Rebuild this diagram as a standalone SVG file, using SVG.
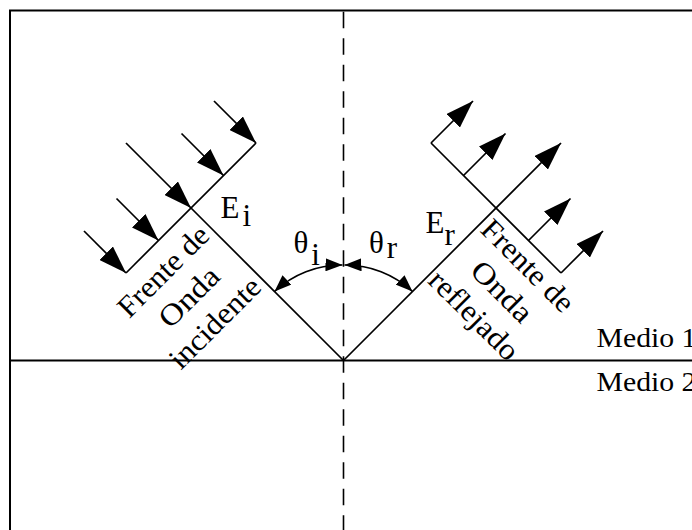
<svg xmlns="http://www.w3.org/2000/svg" width="692" height="530" viewBox="0 0 692 530">
<style>
.ln{stroke:#000;stroke-width:1.7;fill:none}
.arr{stroke:#000;stroke-width:1.7;fill:none;marker-end:url(#ah)}
.ang{stroke:#000;stroke-width:1.7;fill:none;marker-start:url(#sh);marker-end:url(#sh)}
.dash{stroke:#000;stroke-width:1.6;fill:none;stroke-dasharray:16.5 10}
text{font-family:"Liberation Serif","Times New Roman",serif;fill:#000}
.lbl{font-size:31px}
.rot{font-size:30px;text-anchor:middle}
.medio{font-size:27.5px}
</style>
<defs>
<marker id="ah" viewBox="0 0 28 19" refX="28" refY="9.5" markerWidth="28" markerHeight="19" markerUnits="userSpaceOnUse" orient="auto"><path d="M0,0 L28,9.5 L0,19 z" fill="#000"/></marker>
<marker id="sh" viewBox="0 0 17 13" refX="17" refY="6.5" markerWidth="17" markerHeight="13" markerUnits="userSpaceOnUse" orient="auto-start-reverse"><path d="M0,0 L17,6.5 L0,13 z" fill="#000"/></marker>
</defs>
<rect width="692" height="530" fill="#fff"/>
<g id="frame">
<rect x="10" y="10.5" width="700" height="540" fill="none" stroke="#000" stroke-width="2"/>
<line class="dash" x1="343.5" y1="11.7" x2="343.5" y2="530"/>
<line class="ln" x1="10" y1="360.5" x2="692" y2="360.5" style="stroke-width:1.8"/>
</g>
<g id="incident">
<line class="ln" x1="191" y1="208" x2="343.5" y2="360.5"/>
<line class="ln" x1="126" y1="273" x2="256" y2="143"/>
<line class="arr" x1="84" y1="231" x2="126" y2="273"/>
<line class="arr" x1="116.5" y1="198.5" x2="158.5" y2="240.5"/>
<line class="arr" x1="126" y1="143" x2="191" y2="208"/>
<line class="arr" x1="181.5" y1="133.5" x2="223.5" y2="175.5"/>
<line class="arr" x1="214" y1="101" x2="256" y2="143"/>
</g>
<g id="reflected">
<line class="arr" x1="343.5" y1="360.5" x2="561" y2="143"/>
<line class="ln" x1="431" y1="143" x2="561" y2="273"/>
<line class="arr" x1="431" y1="143" x2="473" y2="101"/>
<line class="arr" x1="463.5" y1="175.5" x2="505.5" y2="133.5"/>
<line class="arr" x1="528.5" y1="240.5" x2="570.5" y2="198.5"/>
<line class="arr" x1="561" y1="273" x2="603" y2="231"/>
</g>
<g id="angles">
<path class="ang" d="M274.5,291.5 A98,98 0 0 1 342.5,265"/>
<path class="ang" d="M344.5,265 A98,98 0 0 1 412.5,291.5"/>
</g>
<g id="labels">
<text class="lbl" x="220.5" y="217.5">E<tspan dx="3" dy="8">i</tspan></text>
<text class="lbl" x="425.5" y="233">E<tspan dx="0" dy="12">r</tspan></text>
<text class="lbl" x="293.5" y="253">θ<tspan dx="3" dy="12">i</tspan></text>
<text class="lbl" x="369" y="253">θ<tspan dx="3" dy="5">r</tspan></text>
<text class="medio" x="596.5" y="346.5" textLength="100" lengthAdjust="spacingAndGlyphs">Medio 1</text>
<text class="medio" x="596.5" y="390.5" textLength="100" lengthAdjust="spacingAndGlyphs">Medio 2</text>
</g>
<g id="incident-text" transform="translate(196,304) rotate(-45)">
<text class="rot" y="-36.5" textLength="116" lengthAdjust="spacingAndGlyphs">Frente de</text>
<text class="rot" y="0" textLength="73" lengthAdjust="spacingAndGlyphs">Onda</text>
<text class="rot" y="36.5" textLength="116" lengthAdjust="spacingAndGlyphs">incidente</text>
</g>
<g id="reflected-text" transform="translate(495,298.5) rotate(45)">
<text class="rot" y="-36.5" textLength="118" lengthAdjust="spacingAndGlyphs">Frente de</text>
<text class="rot" y="0" textLength="74" lengthAdjust="spacingAndGlyphs">Onda</text>
<text class="rot" x="-3" y="36.5" textLength="114" lengthAdjust="spacingAndGlyphs">reflejado</text>
</g>
</svg>
